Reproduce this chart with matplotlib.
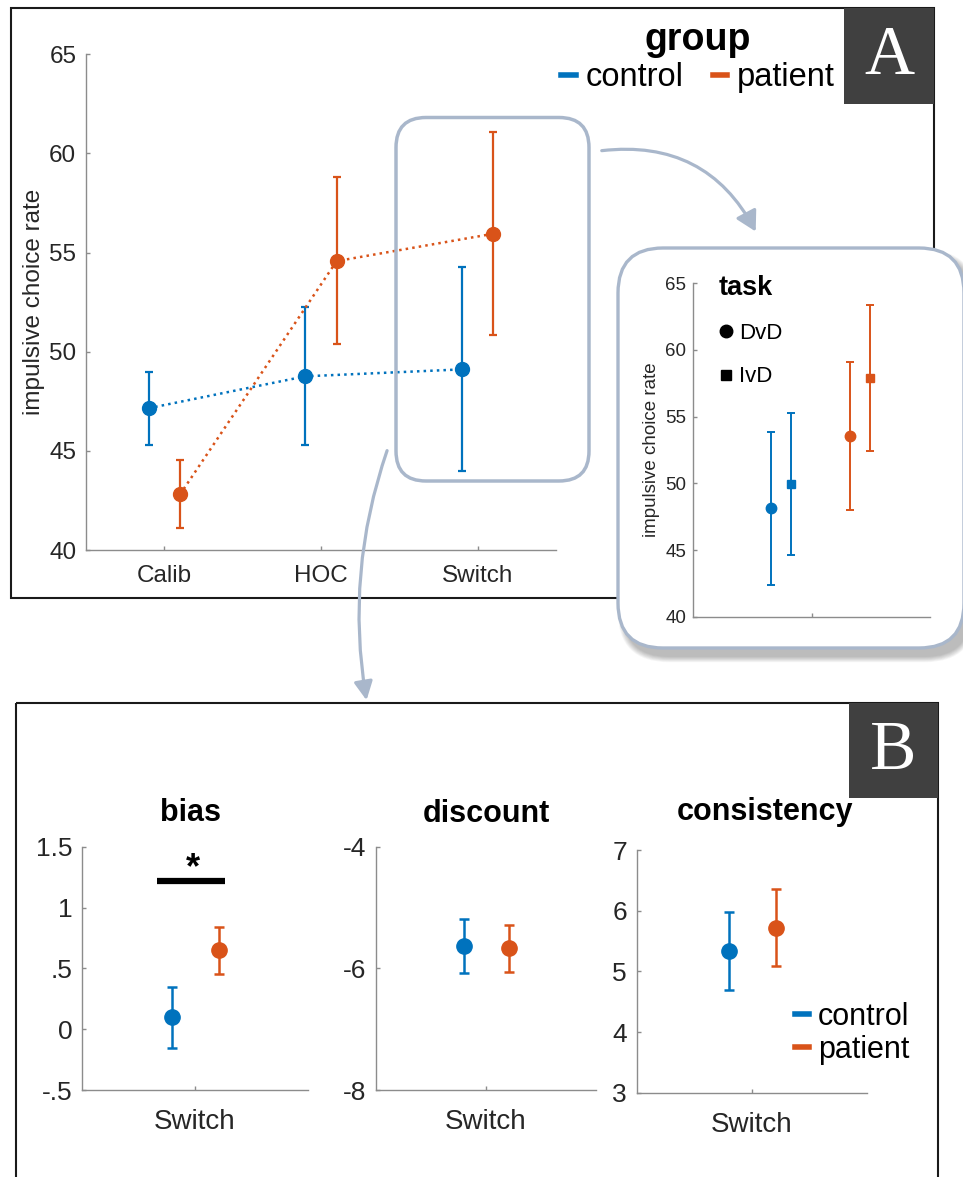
import matplotlib
matplotlib.use('Agg')
import matplotlib.pyplot as plt
from matplotlib.patches import FancyBboxPatch, FancyArrowPatch, Rectangle
from matplotlib.lines import Line2D

plt.rcParams['font.family'] = ['Liberation Sans', 'DejaVu Sans']
plt.rcParams['axes.unicode_minus'] = False

W, H = 963, 1177
BLUE = '#0072BD'
ORANGE = '#D95319'
FRAME = '#a9b7cb'
SPINE = '#8c8c8c'
TXT = '#262626'

# --- panel A: impulsive choice rate per phase (mean, lower, upper) ---
phases = ['Calib', 'HOC', 'Switch']
ctrl_mean = [47.15, 48.76, 49.11]
ctrl_lo = [45.3, 45.3, 44.0]
ctrl_hi = [49.0, 52.25, 54.25]
pat_mean = [42.8, 54.57, 55.95]
pat_lo = [41.1, 50.37, 50.84]
pat_hi = [44.54, 58.81, 61.1]

# --- inset: Switch phase split by task ---
tasks = ['DvD', 'IvD']
task_markers = ['o', 's']
ins_ctrl_mean = [48.13, 49.93]
ins_ctrl_lo = [42.38, 44.63]
ins_ctrl_hi = [53.88, 55.26]
ins_pat_mean = [53.53, 57.9]
ins_pat_lo = [47.98, 52.45]
ins_pat_hi = [59.08, 63.36]

# --- panel B: model parameters in Switch ---
params = ['bias', 'discount', 'consistency']
par_ctrl_mean = [0.096, -5.63, 5.33]
par_ctrl_lo = [-0.156, -6.07, 4.70]
par_ctrl_hi = [0.35, -5.19, 5.97]
par_pat_mean = [0.647, -5.67, 5.71]
par_pat_lo = [0.455, -6.06, 5.09]
par_pat_hi = [0.84, -5.29, 6.36]
par_ylim = [(-0.5, 1.5), (-8, -4), (3, 7)]
par_ticks = [[-0.5, 0, 0.5, 1, 1.5], [-8, -6, -4], [3, 4, 5, 6, 7]]
par_ticklabels = [['-.5', '0', '.5', '1', '1.5'], ['-8', '-6', '-4'], ['3', '4', '5', '6', '7']]
sig_y = 1.215  # bias: significance bar


def err(mean, lo, hi):
    return [[m - l for m, l in zip(mean, lo)], [h - m for m, h in zip(mean, hi)]]


fig = plt.figure(figsize=(W / 100, H / 100), dpi=100)


def px_axes(l, t, r, b, **kw):
    return fig.add_axes([l / W, 1 - b / H, (r - l) / W, (b - t) / H], **kw)


def style(ax, size):
    for s in ['top', 'right']:
        ax.spines[s].set_visible(False)
    for s in ['left', 'bottom']:
        ax.spines[s].set_color(SPINE)
        ax.spines[s].set_linewidth(1.0)
    ax.tick_params(direction='in', length=3, width=1, color=SPINE,
                   labelsize=size, labelcolor=TXT)
    ax.patch.set_alpha(0)


# background: panel frames and letters
bg = fig.add_axes([0, 0, 1, 1], zorder=0)
bg.set_xlim(0, W)
bg.set_ylim(H, 0)
bg.axis('off')
bg.add_patch(Rectangle((11, 7.5), 923, 590, fill=False, ec='#1a1a1a', lw=1.5))
bg.add_patch(Rectangle((16, 703), 922, 520, fill=False, ec='#1a1a1a', lw=1.5))
bg.add_patch(Rectangle((844, 7.5), 90, 96.5, fc='#404040', ec='none'))
bg.add_patch(Rectangle((849, 703), 89, 95, fc='#404040', ec='none'))
bg.text(889, 57, 'A', color='white', fontsize=50, family='Liberation Serif',
        ha='center', va='center')
bg.text(893.5, 752, 'B', color='white', fontsize=50, family='Liberation Serif',
        ha='center', va='center')

# panel A main axes
axA = px_axes(86, 54.3, 556, 550, zorder=1)
style(axA, 17.5)
xs = list(range(1, len(phases) + 1))
xc = [x - 0.1 for x in xs]
xp = [x + 0.1 for x in xs]
for x, m, lo, hi, c in [(xc, ctrl_mean, ctrl_lo, ctrl_hi, BLUE),
                        (xp, pat_mean, pat_lo, pat_hi, ORANGE)]:
    axA.plot(x, m, ls=':', color=c, lw=1.8)
    axA.errorbar(x, m, yerr=err(m, lo, hi), fmt='o', color=c, ms=10,
                 elinewidth=1.6, capsize=3, capthick=1.6)
axA.set_xlim(0.5, 3.5)
axA.set_ylim(40, 65)
axA.set_xticks(xs)
axA.set_xticklabels(phases)
axA.set_yticks([40, 45, 50, 55, 60, 65])
axA.tick_params(axis='x', pad=11)
axA.tick_params(axis='y', pad=7)
axA.set_ylabel('impulsive choice rate', fontsize=17.5, color=TXT, labelpad=3)
legA = axA.legend([Line2D([], [], color=BLUE, lw=4), Line2D([], [], color=ORANGE, lw=4)],
                  ['control', 'patient'], ncol=2, title='group',
                  title_fontproperties={'weight': 'bold', 'size': 27},
                  fontsize=23.5, frameon=False, handlelength=0.45, handletextpad=0.3,
                  columnspacing=0.9, borderpad=0, borderaxespad=0,
                  loc='upper center', bbox_to_anchor=(698 / W, 1 - 22 / H),
                  bbox_transform=fig.transFigure)
legA._legend_box.sep = 3

# overlay: zoom box, arrows, inset frame
ov = fig.add_axes([0, 0, 1, 1], zorder=2)
ov.set_xlim(0, W)
ov.set_ylim(H, 0)
ov.axis('off')
ov.add_patch(FancyBboxPatch((396, 117.5), 193, 363.5, boxstyle='round,pad=0,rounding_size=30',
                            fill=False, ec=FRAME, lw=2.5))
ov.add_patch(FancyArrowPatch((599, 151), (757, 234), connectionstyle='arc3,rad=-0.35',
                             arrowstyle='-|>,head_length=0.8,head_width=0.45',
                             mutation_scale=15, color=FRAME, lw=2.3))
ov.add_patch(FancyArrowPatch((388, 448), (367, 703), connectionstyle='arc3,rad=0.13',
                             arrowstyle='-|>,head_length=0.8,head_width=0.4',
                             mutation_scale=14, color=FRAME, lw=2.3))
for i in range(8):
    g = 2 + i * 1.5
    ov.add_patch(FancyBboxPatch((618 + 6 - g / 2, 248 + 8 - g / 2), 346 + g, 400 + g,
                                boxstyle='round,pad=0,rounding_size=%g' % (45 + g / 2),
                                fc='#000000', ec='none', alpha=0.035))
ov.add_patch(FancyBboxPatch((618, 248), 346, 400, boxstyle='round,pad=0,rounding_size=45',
                            fc='white', ec=FRAME, lw=2.4))

# inset axes
axI = px_axes(693, 283.3, 930, 616.7, zorder=3)
style(axI, 13.5)
ins_xc = [0.83, 0.913]
ins_xp = [1.162, 1.247]
for k, mk in enumerate(task_markers):
    ms = 7.5 if mk == 'o' else 6
    axI.errorbar([ins_xc[k]], [ins_ctrl_mean[k]],
                 yerr=[[ins_ctrl_mean[k] - ins_ctrl_lo[k]], [ins_ctrl_hi[k] - ins_ctrl_mean[k]]],
                 fmt=mk, color=BLUE, ms=ms, elinewidth=1.4, capsize=3, capthick=1.4)
    axI.errorbar([ins_xp[k]], [ins_pat_mean[k]],
                 yerr=[[ins_pat_mean[k] - ins_pat_lo[k]], [ins_pat_hi[k] - ins_pat_mean[k]]],
                 fmt=mk, color=ORANGE, ms=ms, elinewidth=1.4, capsize=3, capthick=1.4)
axI.set_xlim(0.5, 1.5)
axI.set_ylim(40, 65)
axI.set_xticks([1])
axI.set_xticklabels([''])
axI.set_yticks([40, 45, 50, 55, 60, 65])
axI.tick_params(axis='y', pad=5)
axI.set_ylabel('impulsive choice rate', fontsize=13.5, color=TXT, labelpad=4)
legI = axI.legend([Line2D([], [], marker=m, color='k', ls='none', ms=9 if m == 'o' else 7)
                   for m in task_markers], tasks, title='task',
                  title_fontproperties={'weight': 'bold', 'size': 19.5},
                  fontsize=16, frameon=False, handlelength=0.6, handletextpad=0.3,
                  labelspacing=1.0, borderpad=0, borderaxespad=0, alignment='left',
                  loc='upper left', bbox_to_anchor=(719 / W, 1 - 275 / H),
                  bbox_transform=fig.transFigure)

# panel B axes
boxes = [(82.3, 846.7, 307.7, 1090), (376, 846.7, 596, 1090), (636.7, 850, 866.7, 1092.7)]
title_pad = [18.7, 18, 21.6]
title_x = [0.48, 0.5, 0.558]
for i, name in enumerate(params):
    ax = px_axes(*boxes[i], zorder=1)
    style(ax, 19)
    for x, m, lo, hi, c in [(0.9, par_ctrl_mean, par_ctrl_lo, par_ctrl_hi, BLUE),
                            (1.105, par_pat_mean, par_pat_lo, par_pat_hi, ORANGE)]:
        ax.errorbar([x], [m[i]], yerr=[[m[i] - lo[i]], [hi[i] - m[i]]], fmt='o', color=c,
                    ms=11, elinewidth=1.8, capsize=3.5, capthick=1.8)
    ax.set_xlim(0.5, 1.5)
    ax.set_ylim(*par_ylim[i])
    ax.set_yticks(par_ticks[i])
    ax.set_yticklabels(par_ticklabels[i])
    ax.set_xticks([1])
    ax.set_xticklabels(['Switch'], fontsize=20)
    ax.tick_params(axis='x', pad=14)
    ax.tick_params(axis='y', pad=7)
    ax.set_title(name, fontsize=22, fontweight='bold', pad=title_pad[i], x=title_x[i])
    if name == 'bias':
        ax.plot([0.83, 1.135], [sig_y, sig_y], color='k', lw=4.5, solid_capstyle='butt')
        ax.text(0.99, sig_y - 0.04, '*', fontsize=26, fontweight='bold',
                ha='center', va='bottom')
    if name == 'consistency':
        ax.legend([Line2D([], [], color=BLUE, lw=4), Line2D([], [], color=ORANGE, lw=4)],
                  ['control', 'patient'], fontsize=22, frameon=False,
                  handlelength=0.45, handletextpad=0.3, labelspacing=0.1,
                  borderpad=0, borderaxespad=0, loc='upper left',
                  bbox_to_anchor=(795 / W, 1 - 1002 / H), bbox_transform=fig.transFigure)

fig.savefig('out.png', dpi=100)
